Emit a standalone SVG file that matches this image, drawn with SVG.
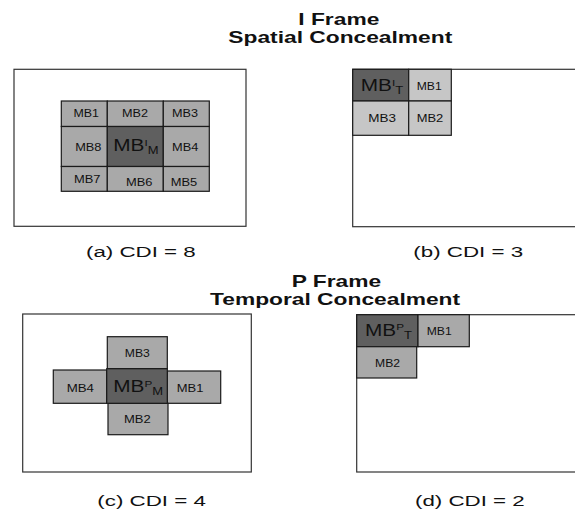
<svg xmlns="http://www.w3.org/2000/svg" width="575" height="509" viewBox="0 0 575 509">
  <style>
    text { font-family: "Liberation Sans", Arial, sans-serif; fill: #111; }
    .title { font-size: 15.6px; font-weight: bold; }
    .cap { font-size: 15.4px; }
    .lbl { font-size: 10.5px; }
    .big { font-size: 16px; }
    .sup { font-size: 9px; }
    .sub { font-size: 10px; }
    .frame { fill: #fff; stroke: #333; stroke-width: 1.2; }
    .cell { stroke: #1a1a1a; stroke-width: 1.2; }
    .lt { fill: #a9a9a9; }
    .lt2 { fill: #c6c6c6; }
    .dk { fill: #5f5f5f; }
  </style>
  <rect width="575" height="509" fill="#fff"/>

  <!-- headings (wide face: glyphs stretched horizontally) -->
  <g id="heading-i">
    <text class="title" transform="translate(298.3,25) scale(1.46,1)">I Frame</text>
    <text class="title" transform="translate(228.3,42.5) scale(1.46,1)">Spatial Concealment</text>
  </g>
  <g id="heading-p">
    <text class="title" transform="translate(291.7,286.7) scale(1.46,1)">P Frame</text>
    <text class="title" transform="translate(210,304.5) scale(1.46,1)">Temporal Concealment</text>
  </g>

  <!-- (a) I frame, interior block: 8 neighbours -->
  <g id="panel-a">
    <rect class="frame" x="14" y="69.3" width="232" height="157"/>
    <g id="a-mb1"><rect class="cell lt" x="61.3" y="101" width="46" height="25.5"/><text class="lbl" x="73.5" y="117.3" textLength="25.5" lengthAdjust="spacingAndGlyphs">MB1</text></g>
    <g id="a-mb2"><rect class="cell lt" x="107.3" y="101" width="56" height="25.5"/><text class="lbl" x="122" y="117.3" textLength="26" lengthAdjust="spacingAndGlyphs">MB2</text></g>
    <g id="a-mb3"><rect class="cell lt" x="163.3" y="101" width="46" height="25.5"/><text class="lbl" x="172" y="117.3" textLength="26" lengthAdjust="spacingAndGlyphs">MB3</text></g>
    <g id="a-mb8"><rect class="cell lt" x="61.3" y="126.5" width="46" height="40"/><text class="lbl" x="75.2" y="151" textLength="26.3" lengthAdjust="spacingAndGlyphs">MB8</text></g>
    <g id="a-mbm"><rect class="cell dk" x="107.3" y="126.5" width="56" height="40"/><text class="big" transform="translate(113.3,151) scale(1.3,1)">MB<tspan class="sup" dy="-5.5">I</tspan><tspan class="sub" dy="8.5">M</tspan></text></g>
    <g id="a-mb4"><rect class="cell lt" x="163.3" y="126.5" width="46" height="40"/><text class="lbl" x="172" y="151" textLength="26.3" lengthAdjust="spacingAndGlyphs">MB4</text></g>
    <g id="a-mb7"><rect class="cell lt" x="61.3" y="166.5" width="46" height="24.8"/><text class="lbl" x="74" y="183.2" textLength="26.5" lengthAdjust="spacingAndGlyphs">MB7</text></g>
    <g id="a-mb6"><rect class="cell lt" x="107.3" y="166.5" width="56" height="24.8"/><text class="lbl" x="126" y="186" textLength="26.5" lengthAdjust="spacingAndGlyphs">MB6</text></g>
    <g id="a-mb5"><rect class="cell lt" x="163.3" y="166.5" width="46" height="24.8"/><text class="lbl" x="170.7" y="186" textLength="26.5" lengthAdjust="spacingAndGlyphs">MB5</text></g>
    <text class="cap" transform="translate(86,256.5) scale(1.45,1)">(a) CDI = 8</text>
  </g>

  <!-- (b) I frame, corner block: 3 neighbours -->
  <g id="panel-b">
    <rect class="frame" x="352.7" y="69.3" width="240" height="157.4"/>
    <g id="b-mbt"><rect class="cell dk" x="352.7" y="69.3" width="56" height="31.7"/><text class="big" transform="translate(360.7,91) scale(1.3,1)">MB<tspan class="sup" dy="-5.5">I</tspan><tspan class="sub" dy="8.5">T</tspan></text></g>
    <g id="b-mb1"><rect class="cell lt2" x="408.7" y="69.3" width="42.6" height="31.7"/><text class="lbl" x="416.7" y="89.8" textLength="25" lengthAdjust="spacingAndGlyphs">MB1</text></g>
    <g id="b-mb3"><rect class="cell lt2" x="352.7" y="101" width="56" height="34.3"/><text class="lbl" x="368.3" y="121.8" textLength="27.7" lengthAdjust="spacingAndGlyphs">MB3</text></g>
    <g id="b-mb2"><rect class="cell lt2" x="408.7" y="101" width="42.6" height="34.3"/><text class="lbl" x="416.7" y="121.8" textLength="26.6" lengthAdjust="spacingAndGlyphs">MB2</text></g>
    <text class="cap" transform="translate(413.3,256.5) scale(1.45,1)">(b) CDI = 3</text>
  </g>

  <!-- (c) P frame, interior block: 4 neighbours -->
  <g id="panel-c">
    <rect class="frame" x="22.7" y="314" width="228.6" height="158"/>
    <g id="c-mb3"><rect class="cell lt" x="107.3" y="336.7" width="60" height="32"/><text class="lbl" x="124.8" y="356.5" textLength="25" lengthAdjust="spacingAndGlyphs">MB3</text></g>
    <g id="c-mb4"><rect class="cell lt" x="53.3" y="370" width="53.4" height="33.3"/><text class="lbl" x="66.7" y="391.5" textLength="27.3" lengthAdjust="spacingAndGlyphs">MB4</text></g>
    <g id="c-mb1"><rect class="cell lt" x="167.3" y="371" width="53.4" height="32.3"/><text class="lbl" x="176.7" y="391.5" textLength="26.7" lengthAdjust="spacingAndGlyphs">MB1</text></g>
    <g id="c-mb2"><rect class="cell lt" x="108" y="403.3" width="60" height="31.4"/><text class="lbl" x="124" y="422.5" textLength="26.7" lengthAdjust="spacingAndGlyphs">MB2</text></g>
    <g id="c-mbm"><rect class="cell dk" x="106.7" y="368.7" width="60.6" height="34.6"/><text class="big" transform="translate(113.3,392) scale(1.3,1)">MB<tspan class="sup" dy="-5.5">P</tspan><tspan class="sub" dy="8.5">M</tspan></text></g>
    <text class="cap" transform="translate(97.3,506) scale(1.45,1)">(c) CDI = 4</text>
  </g>

  <!-- (d) P frame, corner block: 2 neighbours -->
  <g id="panel-d">
    <rect class="frame" x="356.7" y="314.7" width="240" height="157.3"/>
    <g id="d-mbt"><rect class="cell dk" x="356.7" y="314.7" width="61.3" height="32"/><text class="big" transform="translate(365,335.5) scale(1.3,1)">MB<tspan class="sup" dy="-5.5">P</tspan><tspan class="sub" dy="8.5">T</tspan></text></g>
    <g id="d-mb1"><rect class="cell lt" x="418" y="314.7" width="51.3" height="32"/><text class="lbl" x="426.7" y="334.5" textLength="25" lengthAdjust="spacingAndGlyphs">MB1</text></g>
    <g id="d-mb2"><rect class="cell lt" x="356.7" y="346.7" width="60" height="31.3"/><text class="lbl" x="375" y="366.5" textLength="25" lengthAdjust="spacingAndGlyphs">MB2</text></g>
    <text class="cap" transform="translate(415,506) scale(1.45,1)">(d) CDI = 2</text>
  </g>
</svg>
